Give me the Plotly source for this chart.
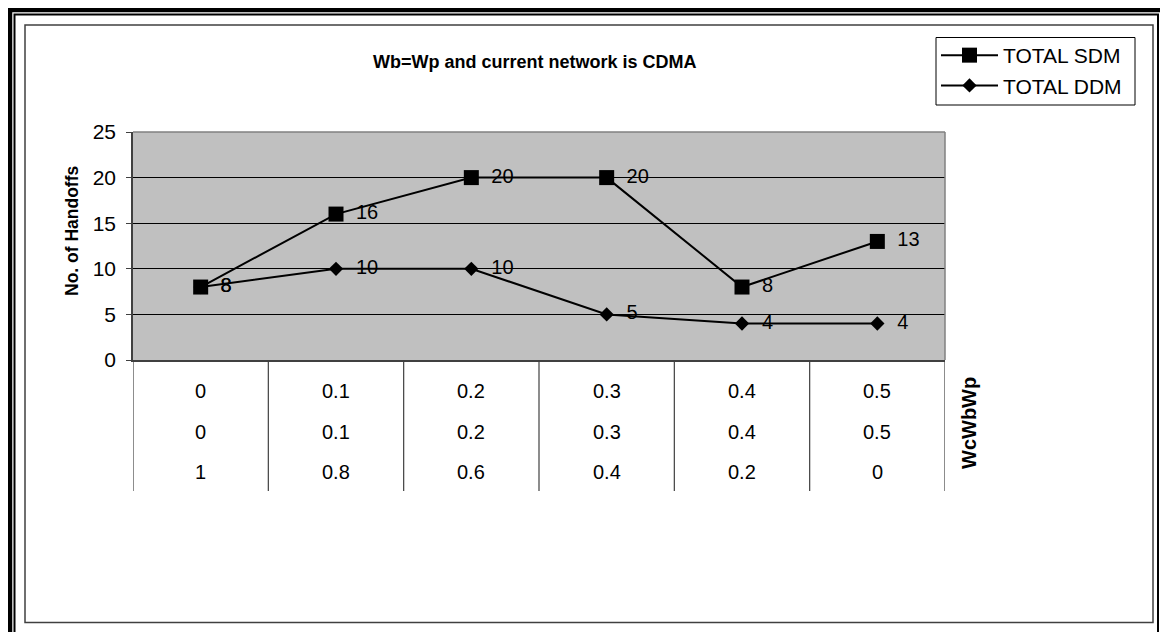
import plotly.graph_objects as go

# ---- data ----
categories = [0, 1, 2, 3, 4, 5]
row1_labels = ["0", "0.1", "0.2", "0.3", "0.4", "0.5"]
row2_labels = ["0", "0.1", "0.2", "0.3", "0.4", "0.5"]
row3_labels = ["1", "0.8", "0.6", "0.4", "0.2", "0"]
sdm_values = [8, 16, 20, 20, 8, 13]
ddm_values = [8, 10, 10, 5, 4, 4]

# page body has an 8px margin; the figure is sized so it lands on the 1168x632 window
OFF = 8
W, H = 1168 - OFF, 632 - OFF
PL, PR, PT, PB = 133, 945, 132, 360  # plot area in page px


def px(x):
    return (x - PL) / (PR - PL)


def py(y):
    return (PB - y) / (PB - PT)


FONT = "Liberation Sans, Arial, sans-serif"
GAP = "\u00a0\u2009"

fig = go.Figure()
fig.add_trace(go.Scatter(
    x=categories, y=sdm_values, name="TOTAL SDM", mode="lines+markers",
    line=dict(color="black", width=2),
    marker=dict(symbol="square", size=15, color="black"),
    cliponaxis=False,
))
fig.add_trace(go.Scatter(
    x=categories, y=ddm_values, name="TOTAL DDM", mode="lines+markers",
    line=dict(color="black", width=2),
    marker=dict(symbol="diamond", size=11, color="black"),
    cliponaxis=False,
))
# value labels (same offset for both series, so coincident labels overlap exactly)
for vals in (sdm_values, ddm_values):
    fig.add_trace(go.Scatter(
        x=categories, y=vals, mode="markers+text", showlegend=False, hoverinfo="skip",
        text=[GAP + str(v) for v in vals], textposition="middle right",
        textfont=dict(size=20, color="black", family=FONT),
        marker=dict(size=15, color="rgba(0,0,0,0)"),
        cliponaxis=False,
    ))

shapes = []
# plot area top/right border (gray)
shapes.append(dict(type="line", xref="paper", yref="paper", x0=0, x1=1, y0=1, y1=1,
                   line=dict(color="#808080", width=1.5)))
shapes.append(dict(type="line", xref="paper", yref="paper", x0=1, x1=1, y0=0, y1=1,
                   line=dict(color="#808080", width=1.5)))
# table vertical separators at category boundaries
for i in range(len(categories) + 1):
    shapes.append(dict(type="line", xref="x", yref="paper",
                       x0=categories[0] - 0.5 + i, x1=categories[0] - 0.5 + i,
                       y0=0, y1=py(491), line=dict(color="#404040", width=1.2)))
# legend box
shapes.append(dict(type="rect", xref="paper", yref="paper",
                   x0=px(936), x1=px(1135), y0=py(37.5), y1=py(105),
                   line=dict(color="black", width=1), fillcolor="white", layer="below"))
# frame: inner thin border
shapes.append(dict(type="rect", xref="paper", yref="paper",
                   x0=px(25), x1=px(1153), y0=py(25), y1=py(622.5),
                   line=dict(color="#404040", width=1.5)))
# frame: outer double lines
shapes.append(dict(type="rect", xref="paper", yref="paper",
                   x0=px(14.5), x1=px(1158), y0=py(14.5), y1=py(660),
                   line=dict(color="black", width=2)))
shapes.append(dict(type="rect", xref="paper", yref="paper",
                   x0=px(10), x1=px(1165.5), y0=py(10), y1=py(670),
                   line=dict(color="black", width=4.5)))

annotations = []
for rows, ypx in ((row1_labels, 391), (row2_labels, 432), (row3_labels, 472)):
    for c, lab in zip(categories, rows):
        annotations.append(dict(x=c, xref="x", y=py(ypx), yref="paper", text=lab,
                                showarrow=False, font=dict(size=20, color="black", family=FONT),
                                xanchor="center", yanchor="middle"))
annotations.append(dict(x=px(969), xref="paper", y=py(423), yref="paper", text="<b>WcWbWp</b>",
                        textangle=-90, showarrow=False,
                        font=dict(size=20, color="black", family=FONT),
                        xanchor="center", yanchor="middle"))
annotations.append(dict(x=px(535), xref="paper", y=py(62), yref="paper",
                        text="<b>Wb=Wp and current network is CDMA</b>", showarrow=False,
                        font=dict(size=18, color="black", family=FONT),
                        xanchor="center", yanchor="middle"))
annotations.append(dict(x=px(72), xref="paper", y=py(230), yref="paper",
                        text="<b>No. of Handoffs</b>", textangle=-90, showarrow=False,
                        font=dict(size=17.5, color="black", family=FONT),
                        xanchor="center", yanchor="middle"))

fig.update_layout(
    width=W, height=H,
    margin=dict(l=PL - OFF, r=1168 - PR, t=PT - OFF, b=632 - PB, pad=0),
    paper_bgcolor="white", plot_bgcolor="#C0C0C0",
    font=dict(family=FONT, size=20, color="black"),
    showlegend=True,
    legend=dict(x=px(936), y=py(35), xanchor="left", yanchor="top",
                borderwidth=0, bgcolor="rgba(0,0,0,0)",
                font=dict(size=21, family=FONT, color="black"),
                itemwidth=57, tracegroupgap=0),
    xaxis=dict(range=[-0.5, 5.5], showticklabels=False, ticks="", showgrid=False,
               zeroline=False, showline=True, linecolor="#404040", linewidth=1.5,
               fixedrange=True),
    yaxis=dict(range=[0, 25], tickvals=[0, 5, 10, 15, 20, 25], ticks="outside",
               ticklen=5, tickcolor="#404040", showgrid=True, gridcolor="black",
               gridwidth=1, zeroline=False, showline=True, linecolor="#404040",
               linewidth=1.5, tickfont=dict(size=21, family=FONT, color="black"),
               ticklabelstandoff=6, fixedrange=True),
    shapes=shapes, annotations=annotations,
)

fig.write_html("out.html")
